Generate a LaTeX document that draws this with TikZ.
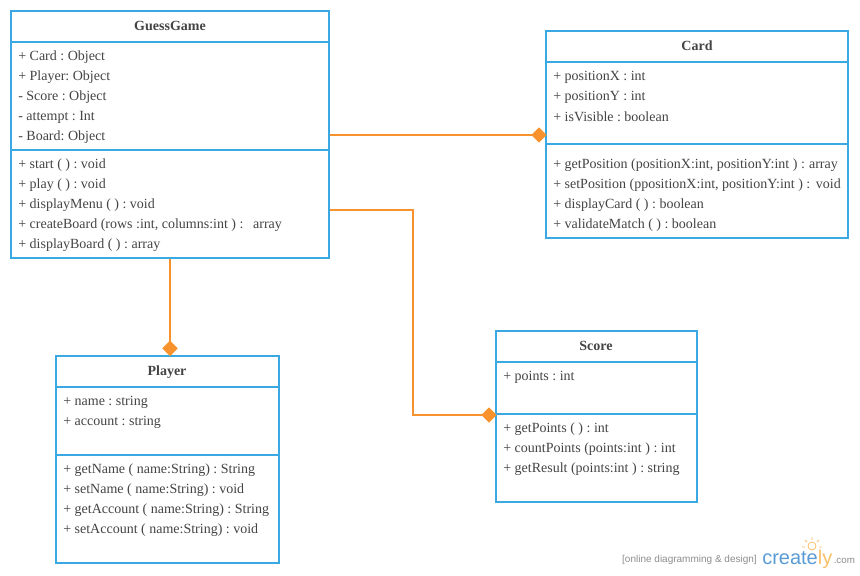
\documentclass[tikz,border=0pt]{standalone}
\usepackage{fontspec}
\setmainfont{Liberation Serif}
\newfontfamily\logofont{Liberation Sans}
\usetikzlibrary{arrows.meta}
\frenchspacing
\definecolor{umlblue}{HTML}{3AA8E2}
\definecolor{umlorange}{HTML}{F7922C}
\definecolor{umltext}{HTML}{444444}
\definecolor{logoblue}{HTML}{5A9BD5}
\definecolor{logoorange}{HTML}{F9C06A}
\definecolor{logogray}{HTML}{8C8C8C}
\tikzset{
  x=0.75pt,y=-0.75pt,
  umlbox/.style={draw=umlblue,line width=1.5pt,inner sep=0pt,fill=white},
  divider/.style={draw=umlblue,line width=1.5pt},
  member/.style={anchor=west,inner sep=0pt,yshift=-1.2pt,text=umltext,font=\fontsize{10.5pt}{12pt}\selectfont},
  classtitle/.style={inner sep=0pt,yshift=-0.5pt,text=umltext,font=\fontsize{10.5pt}{12pt}\selectfont\bfseries},
  assoc/.style={draw=umlorange,line width=1.5pt,-{Diamond[length=11.5pt,width=11.5pt,fill=umlorange]}},
}
\newcommand{\umlclass}[5]{% name, x1, y1, x2, y2
  \node[umlbox,minimum width={(#4-#2)*0.75pt},minimum height={(#5-#3)*0.75pt}] (#1) at ({(#2+#4)/2},{(#3+#5)/2}) {};
}
\begin{document}
\begin{tikzpicture}
\useasboundingbox (0,0) rectangle (860,575);
% GuessGame
\umlclass{gg}{11}{11}{329}{258}
\draw[divider] (11,42) -- (329,42);
\draw[divider] (11,150) -- (329,150);
\node[classtitle] (ggt) at (170,25.5) {GuessGame};
\node[member] (gg1) at (18,55.5) {+ Card : Object};
\node[member] (gg2) at (18,75.5) {+ Player: Object};
\node[member] (gg3) at (18,95.5) {- Score : Object};
\node[member] (gg4) at (18,115.5) {- attempt : Int};
\node[member] (gg5) at (18,135.5) {- Board: Object};
\node[member] (gg6) at (18,163.5) {+ start ( ) : void};
\node[member] (gg7) at (18,183.5) {+ play ( ) : void};
\node[member] (gg8) at (18,203.5) {+ displayMenu ( ) : void};
\node[member] (gg9) at (18,223.5) {+ createBoard (rows :int, columns:int ) :\ \ \hspace{2pt}array};
\node[member] (gg10) at (18,243.5) {+ displayBoard ( ) : array};
% Card
\umlclass{card}{546}{31}{848}{238}
\draw[divider] (546,62) -- (848,62);
\draw[divider] (546,144) -- (848,144);
\node[classtitle] (cardt) at (697,45) {Card};
\node[member] (c1) at (553,75.5) {+ positionX : int};
\node[member] (c2) at (553,95.5) {+ positionY : int};
\node[member] (c3) at (553,115) {+ isVisible : boolean};
\node[member] (c4) at (553,163.5) {+ getPosition (positionX:int, positionY:int ) :\ \hspace{0.5pt}array};
\node[member] (c5) at (553,183.5) {+ setPosition (ppositionX:int, positionY:int ) :\hspace{1.5pt} void};
\node[member] (c6) at (553,203.5) {+ displayCard ( ) : boolean};
\node[member] (c7) at (553,223.5) {+ validateMatch ( ) : boolean};
% Player
\umlclass{player}{56}{356}{279}{563}
\draw[divider] (56,387) -- (279,387);
\draw[divider] (56,455) -- (279,455);
\node[classtitle] (playert) at (167,371) {Player};
\node[member] (p1) at (63,400.5) {+ name : string};
\node[member] (p2) at (63,420.5) {+ account : string};
\node[member] (p3) at (63,468.5) {+ getName ( name:String) : String};
\node[member] (p4) at (63,488.5) {+ setName ( name:String) : void};
\node[member] (p5) at (63,508.5) {+ getAccount ( name:String) : String};
\node[member] (p6) at (63,528.5) {+ setAccount ( name:String) : void};
% Score
\umlclass{score}{496}{331}{697}{502}
\draw[divider] (496,362) -- (697,362);
\draw[divider] (496,414) -- (697,414);
\node[classtitle] (scoret) at (596,345) {Score};
\node[member] (s1) at (503,375.5) {+ points : int};
\node[member] (s2) at (503,427.5) {+ getPoints ( ) : int};
\node[member] (s3) at (503,447.5) {+ countPoints (points:int ) : int};
\node[member] (s4) at (503,467.5) {+ getResult (points:int ) : string};
% Connectors
\coordinate (ggcard) at (gg.east |- 0,135);
\coordinate (cardin) at (card.west |- 0,135);
\coordinate (ggscore) at (gg.east |- 0,210);
\coordinate (scorein) at (score.west |- 0,415);
\coordinate (ggplayer) at (170,0 |- gg.south);
\coordinate (playerin) at (170,0 |- player.north);
\draw[assoc,shorten >=-1.2pt] (ggcard) -- (cardin);
\draw[assoc,shorten >=-1.2pt] (ggscore) -- (413,210) -- (413,415) -- (scorein);
\draw[assoc,shorten >=-0.8pt] (ggplayer) -- (playerin);
% Logo
\node[anchor=east,inner sep=0pt,text=logogray,font=\logofont\fontsize{7.5pt}{8pt}\selectfont] (logotag) at (757,560) {[online diagramming \& design]};
\node[anchor=west,inner sep=0pt,text=logoblue,font=\logofont\fontsize{15pt}{16pt}\selectfont] (logoname) at (762,559.5) {\vphantom{x}creat\textcolor{logoblue}{e}\textcolor{logoorange}{ly}};
\node[anchor=west,inner sep=0pt,text=logogray,font=\logofont\fontsize{7.3pt}{8pt}\selectfont] (logocom) at (833.5,561) {.com};
\draw[logoorange,line width=0.6pt,fill=white] (812,546) circle (4);
\draw[logoorange,line width=0.7pt] (812,537)--(812,540) (805,540)--(807,542) (819,540)--(817,542) (802,547)--(805,547) (822,547)--(819,547);
\end{tikzpicture}
\end{document}
